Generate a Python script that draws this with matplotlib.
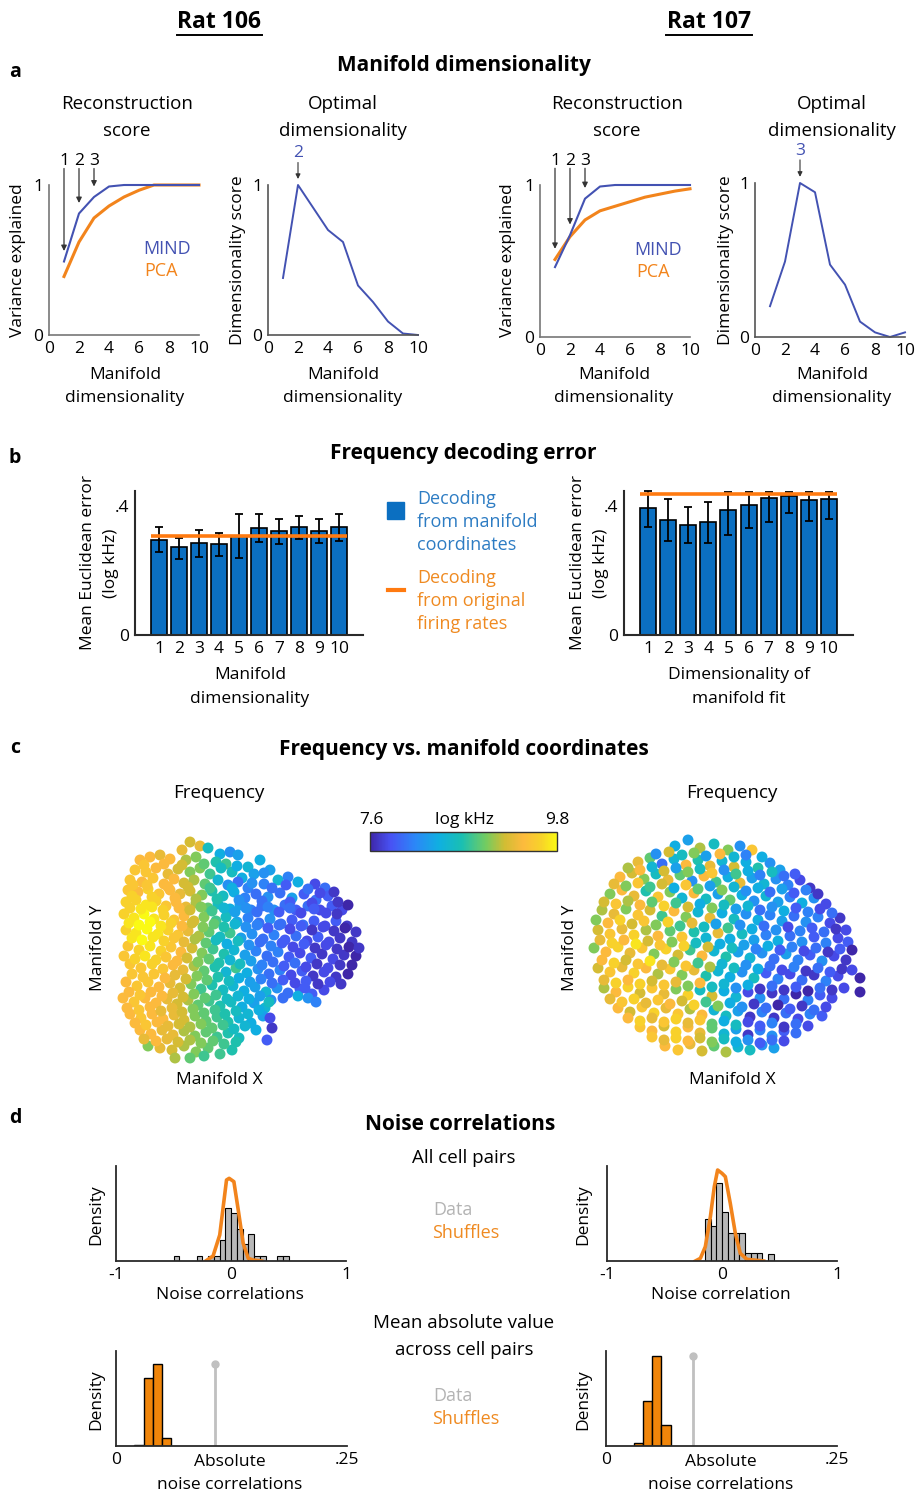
import numpy as np
import matplotlib
matplotlib.use('Agg')
import matplotlib.pyplot as plt
from matplotlib.colors import LinearSegmentedColormap
from matplotlib.lines import Line2D
from matplotlib.patches import Rectangle

plt.rcParams['font.family'] = ['Open Sans', 'DejaVu Sans']

W, H = 917, 1495

# ---------------- data ----------------
dims = np.arange(1, 11)
mind_106 = [0.49, 0.81, 0.92, 0.99, 1.0, 1.0, 1.0, 1.0, 1.0, 1.0]
pca_106 = [0.39, 0.62, 0.78, 0.86, 0.92, 0.965, 1.0, 1.0, 1.0, 1.0]
score_106 = [0.38, 1.0, 0.85, 0.70, 0.62, 0.33, 0.22, 0.09, 0.01, 0.0]
mind_107 = [0.46, 0.67, 0.91, 0.99, 1.0, 1.0, 1.0, 1.0, 1.0, 1.0]
pca_107 = [0.51, 0.66, 0.77, 0.83, 0.86, 0.89, 0.92, 0.94, 0.96, 0.975]
score_107 = [0.2, 0.49, 1.0, 0.94, 0.47, 0.34, 0.1, 0.03, 0.0, 0.03]
best_106, best_107 = 2, 3

err_106 = [0.295, 0.272, 0.286, 0.282, 0.307, 0.331, 0.322, 0.334, 0.323, 0.333]
lo_106 = [0.257, 0.235, 0.243, 0.245, 0.238, 0.287, 0.282, 0.297, 0.284, 0.291]
hi_106 = [0.334, 0.300, 0.326, 0.317, 0.374, 0.374, 0.360, 0.369, 0.360, 0.374]
orig_106 = 0.308
err_107 = [0.393, 0.357, 0.341, 0.349, 0.387, 0.402, 0.425, 0.431, 0.419, 0.422]
lo_107 = [0.336, 0.292, 0.284, 0.284, 0.309, 0.331, 0.349, 0.377, 0.352, 0.360]
hi_107 = [0.445, 0.421, 0.396, 0.412, 0.443, 0.443, 0.443, 0.443, 0.443, 0.443]
orig_107 = 0.436

# manifold coordinates (x, y, log kHz)
pts_106 = [
    (70, 218, 9.2), (80, 214, 9.3),
    (62, 210, 9.3), (88, 212, 8.6), (100, 206, 8.4), (110, 208, 8.2), (118, 205, 8.3),
    (20, 200, 9.4), (30, 203, 9.4), (40, 205, 9.3), (50, 201, 9.4), (66, 200, 9.1), (76, 203, 9.0),
    (96, 198, 8.7), (106, 196, 8.8), (128, 193, 8.5), (140, 200, 8.4), (150, 190, 8.3),
    (15, 190, 9.5), (26, 188, 9.5), (36, 192, 9.4), (48, 186, 9.3), (58, 191, 9.2), (70, 188, 9.0),
    (80, 192, 9.0), (90, 186, 8.8), (112, 188, 8.6), (122, 182, 8.4), (134, 186, 8.3), (158, 180, 8.5),
    (168, 183, 8.1),
    (10, 180, 9.5), (22, 178, 9.4), (33, 182, 9.5), (44, 176, 9.4), (54, 181, 9.4), (64, 177, 9.2),
    (74, 180, 9.1), (85, 176, 8.9), (98, 180, 8.5), (108, 175, 8.2), (118, 178, 8.0), (128, 172, 8.1),
    (144, 176, 8.1), (178, 178, 8.4), (195, 176, 7.8), (205, 172, 8.0),
    (8, 170, 9.5), (18, 168, 9.4), (28, 171, 9.6), (39, 166, 9.5), (50, 170, 9.4), (60, 166, 9.3),
    (70, 169, 9.2), (82, 165, 9.0), (92, 169, 8.7), (103, 164, 8.6), (114, 168, 8.4), (125, 162, 8.1),
    (136, 166, 8.0), (148, 163, 8.2), (160, 167, 8.0), (172, 162, 8.3), (184, 166, 7.9), (196, 160, 8.0),
    (208, 164, 7.9),
    (6, 158, 9.6), (16, 160, 9.6), (26, 155, 9.7), (36, 159, 9.6), (46, 154, 9.5), (56, 158, 9.4),
    (66, 153, 9.3), (76, 157, 9.1), (88, 152, 8.9), (98, 156, 8.6), (110, 151, 8.4), (120, 155, 8.3),
    (131, 150, 8.1), (142, 154, 8.0), (154, 150, 8.2), (165, 155, 8.0), (176, 150, 7.9), (188, 154, 8.0),
    (200, 150, 7.8), (212, 154, 7.9), (222, 150, 7.8),
    (4, 146, 9.6), (14, 142, 9.7), (24, 146, 9.8), (34, 141, 9.7), (44, 145, 9.6), (54, 140, 9.5),
    (64, 144, 9.4), (74, 139, 9.2), (84, 143, 9.0), (96, 139, 8.8), (106, 143, 8.6), (117, 138, 8.3),
    (128, 142, 8.1), (139, 137, 8.0), (150, 141, 8.2), (161, 136, 8.0), (172, 140, 7.9), (183, 135, 8.0),
    (194, 139, 7.9), (205, 134, 7.8), (216, 139, 7.9), (227, 134, 7.7),
    (6, 130, 9.6), (16, 127, 9.7), (27, 131, 9.8), (38, 126, 9.7), (48, 130, 9.6), (58, 125, 9.5),
    (68, 129, 9.3), (79, 124, 9.1), (89, 128, 8.9), (100, 123, 8.6), (110, 127, 8.8), (121, 122, 8.3),
    (132, 126, 8.2), (143, 121, 8.0), (154, 125, 8.1), (165, 120, 7.9), (176, 124, 8.0), (187, 119, 7.8),
    (198, 123, 7.9), (209, 118, 7.8), (220, 122, 7.7), (232, 118, 7.7),
    (8, 114, 9.5), (19, 110, 9.6), (30, 114, 9.7), (41, 109, 9.6), (51, 113, 9.5), (61, 108, 9.4),
    (72, 112, 9.2), (82, 107, 9.0), (93, 111, 8.8), (104, 106, 8.7), (114, 110, 8.5), (125, 105, 8.3),
    (136, 109, 8.1), (147, 104, 8.0), (158, 108, 8.1), (169, 103, 7.9), (180, 107, 7.8), (191, 102, 7.9),
    (202, 106, 7.7), (213, 101, 7.8), (224, 105, 7.7), (236, 104, 7.6),
    (10, 96, 9.5), (21, 92, 9.5), (32, 96, 9.6), (43, 91, 9.5), (53, 95, 9.4), (63, 90, 9.3),
    (74, 94, 9.1), (84, 89, 8.9), (95, 93, 8.7), (106, 88, 8.5), (116, 92, 8.8), (127, 87, 8.4),
    (138, 91, 8.2), (149, 86, 8.0), (160, 90, 8.1), (171, 85, 7.8), (182, 89, 7.9), (193, 84, 7.7),
    (204, 88, 7.8), (216, 83, 7.7), (228, 86, 7.6),
    (6, 78, 9.4), (17, 74, 9.5), (28, 78, 9.5), (39, 73, 9.4), (50, 77, 9.3), (60, 72, 9.2),
    (71, 76, 9.0), (81, 71, 8.8), (92, 75, 8.7), (103, 70, 8.6), (113, 74, 8.5), (124, 69, 8.4),
    (135, 73, 8.3), (146, 68, 8.5), (157, 72, 8.2), (168, 67, 8.0), (180, 71, 7.9), (192, 66, 7.9),
    (204, 70, 7.8),
    (3, 62, 9.4), (14, 58, 9.5), (25, 62, 9.4), (36, 57, 9.4), (47, 61, 9.3), (57, 56, 9.2),
    (68, 60, 9.1), (78, 55, 8.9), (89, 59, 8.8), (100, 54, 8.7), (111, 58, 8.6), (122, 53, 8.4),
    (134, 57, 8.3), (145, 52, 8.5), (178, 64, 8.4), (188, 62, 8.2),
    (10, 46, 9.4), (21, 42, 9.5), (32, 46, 9.4), (43, 41, 9.4), (54, 45, 9.3), (64, 40, 9.2),
    (75, 44, 9.0), (86, 39, 8.9), (97, 43, 8.8), (108, 38, 8.7), (119, 42, 8.5), (131, 37, 8.4),
    (143, 44, 8.3), (152, 32, 7.7),
    (20, 30, 9.4), (31, 26, 9.4), (42, 30, 9.3), (53, 25, 9.3), (64, 29, 9.1), (75, 24, 9.0),
    (86, 28, 8.9), (97, 23, 8.8), (108, 27, 8.7), (119, 22, 8.6), (147, 20, 7.9),
    (28, 14, 9.0), (40, 12, 9.3), (52, 10, 9.2), (64, 14, 9.1), (76, 8, 9.0), (88, 12, 8.9),
    (100, 6, 8.8), (112, 10, 8.7),
    (55, 2, 9.1), (70, 2, 8.9), (84, 4, 8.8),
    # second pass, between the rows above
    (24, 195, 9.5), (44, 196, 9.4), (62, 195, 9.2), (84, 196, 8.9), (101, 192, 8.6), (117, 194, 8.4),
    (144, 187, 8.2),
    (13, 175, 9.5), (27, 175, 9.5), (48, 173, 9.4), (68, 173, 9.2), (90, 172, 8.8), (112, 172, 8.4),
    (132, 177, 8.2), (152, 172, 8.0), (166, 175, 7.9), (188, 171, 8.0), (200, 167, 7.8), (214, 168, 7.7),
    (12, 164, 9.6), (32, 163, 9.6), (55, 162, 9.4), (76, 161, 9.1), (97, 161, 8.7), (119, 160, 8.2),
    (142, 159, 8.0), (170, 158, 7.9), (192, 157, 7.8), (218, 158, 7.7), (228, 155, 7.6),
    (10, 152, 9.6), (21, 151, 9.7), (32, 153, 9.7), (43, 150, 9.6), (59, 152, 9.4), (70, 150, 9.2),
    (81, 153, 9.0), (92, 149, 8.8), (104, 152, 8.5), (115, 148, 8.3), (126, 152, 8.2), (137, 148, 8.0),
    (148, 153, 8.1), (159, 148, 7.9), (170, 152, 8.0), (181, 147, 7.8), (194, 151, 7.9), (206, 147, 7.8),
    (217, 146, 7.7),
    (9, 137, 9.7), (19, 135, 9.8), (30, 138, 9.8), (41, 134, 9.7), (51, 137, 9.6), (62, 134, 9.4),
    (72, 137, 9.2), (83, 133, 9.0), (94, 136, 8.9), (104, 133, 8.7), (115, 136, 8.5), (126, 133, 8.2),
    (137, 135, 8.1), (148, 132, 7.9), (159, 135, 8.0), (170, 131, 7.8), (181, 134, 7.9), (192, 130, 7.7),
    (203, 133, 7.8), (214, 129, 7.7), (225, 132, 7.6), (236, 128, 7.7),
    (12, 122, 9.7), (22, 120, 9.8), (33, 123, 9.7), (44, 119, 9.6), (54, 122, 9.5), (64, 118, 9.3),
    (75, 121, 9.1), (86, 117, 8.9), (96, 120, 8.6), (107, 116, 8.4), (118, 119, 8.6), (129, 115, 8.2),
    (140, 118, 8.0), (151, 114, 8.1), (162, 117, 7.9), (173, 113, 7.8), (184, 116, 7.9), (195, 112, 7.7),
    (206, 115, 7.8), (217, 111, 7.7), (229, 113, 7.6), (239, 112, 7.7),
    (4, 104, 9.5), (15, 101, 9.6), (25, 104, 9.7), (36, 100, 9.6), (46, 103, 9.5), (57, 99, 9.4),
    (67, 102, 9.2), (78, 98, 9.0), (89, 101, 8.9), (99, 97, 8.7), (110, 100, 8.5), (120, 96, 8.6),
    (131, 99, 8.3), (142, 95, 8.1), (153, 98, 8.0), (164, 94, 7.9), (175, 97, 8.0), (186, 93, 7.8),
    (197, 96, 7.7), (208, 92, 7.8), (220, 95, 7.7), (232, 95, 7.6),
    (12, 86, 9.5), (23, 83, 9.5), (34, 86, 9.5), (45, 82, 9.4), (55, 85, 9.3), (66, 81, 9.2),
    (77, 84, 9.0), (87, 80, 8.9), (98, 83, 8.7), (109, 79, 8.6), (119, 82, 8.4), (130, 78, 8.3),
    (141, 81, 8.1), (152, 77, 8.0), (163, 80, 7.9), (175, 77, 7.8), (186, 79, 7.9), (198, 76, 7.7),
    (210, 78, 7.8), (221, 76, 7.7),
    (9, 68, 9.4), (20, 65, 9.5), (31, 68, 9.4), (42, 64, 9.4), (53, 67, 9.3), (63, 63, 9.2),
    (74, 66, 9.0), (85, 62, 8.9), (96, 65, 8.8), (107, 61, 8.6), (118, 64, 8.5), (129, 61, 8.4),
    (140, 64, 8.3), (151, 60, 8.2), (163, 62, 8.0), (185, 72, 7.9), (196, 58, 8.1),
    (7, 52, 9.4), (19, 50, 9.5), (30, 53, 9.4), (41, 49, 9.3), (52, 52, 9.3), (62, 48, 9.2),
    (73, 51, 9.0), (84, 47, 8.9), (95, 50, 8.8), (105, 46, 8.7), (116, 49, 8.6), (128, 46, 8.5),
    (139, 50, 8.4), (149, 58, 8.6),
    (15, 37, 9.4), (26, 35, 9.5), (37, 38, 9.4), (48, 34, 9.3), (59, 36, 9.2), (70, 33, 9.1),
    (81, 36, 9.0), (92, 32, 8.9), (103, 35, 8.8), (114, 31, 8.6), (125, 34, 8.5), (136, 30, 8.4),
    (150, 42, 7.8),
    (24, 21, 9.3), (36, 19, 9.4), (47, 21, 9.3), (58, 18, 9.2), (70, 20, 9.1), (81, 17, 9.0),
    (93, 19, 8.9), (104, 16, 8.8), (116, 18, 8.7),
]

pts_107 = [
    (85, 214, 8.4), (98, 220, 8.3), (110, 212, 9.1), (124, 216, 8.6), (138, 210, 9.0), (150, 214, 8.2),
    (162, 210, 9.5),
    (48, 198, 9.3), (60, 202, 8.9), (72, 196, 8.0), (84, 201, 8.5), (96, 195, 9.4), (108, 200, 8.7),
    (120, 194, 9.3), (132, 199, 8.5), (144, 193, 9.2), (156, 198, 8.4), (168, 192, 8.7), (180, 197, 8.2),
    (190, 190, 8.3),
    (30, 183, 9.4), (42, 187, 9.2), (54, 181, 9.0), (66, 186, 8.6), (78, 180, 9.3), (90, 185, 8.9),
    (102, 179, 8.2), (114, 184, 9.4), (126, 178, 8.8), (138, 183, 8.4), (150, 177, 9.3), (162, 182, 8.3),
    (174, 176, 8.5), (186, 181, 8.2), (198, 175, 8.1), (210, 180, 7.8), (220, 172, 7.7),
    (20, 166, 9.0), (32, 170, 9.4), (44, 164, 9.3), (56, 169, 8.7), (68, 163, 9.5), (80, 168, 9.0),
    (92, 162, 8.5), (104, 167, 9.4), (116, 161, 8.6), (128, 166, 8.3), (140, 160, 8.9), (152, 165, 8.4),
    (164, 159, 8.2), (176, 164, 8.5), (188, 158, 8.3), (200, 163, 8.1), (212, 157, 8.4), (224, 162, 8.2),
    (236, 156, 7.8),
    (12, 150, 9.1), (24, 146, 9.3), (36, 151, 9.0), (48, 145, 9.5), (60, 150, 9.2), (72, 144, 8.8),
    (84, 149, 9.4), (96, 143, 9.0), (108, 148, 8.5), (120, 142, 9.3), (132, 147, 8.4), (144, 141, 8.6),
    (156, 146, 8.2), (168, 140, 8.4), (180, 145, 8.1), (192, 139, 8.3), (204, 144, 8.0), (216, 138, 8.2),
    (228, 143, 8.1), (240, 137, 7.8), (250, 142, 7.7),
    (8, 130, 9.2), (20, 126, 9.5), (32, 131, 9.3), (44, 125, 9.6), (56, 130, 9.1), (68, 124, 9.4),
    (80, 129, 8.9), (92, 123, 9.5), (104, 128, 8.7), (116, 122, 8.5), (128, 127, 9.3), (140, 121, 8.4),
    (152, 126, 8.6), (164, 120, 8.3), (176, 125, 8.1), (188, 119, 8.4), (200, 124, 8.0), (212, 118, 8.2),
    (224, 123, 7.9), (236, 117, 8.1), (248, 122, 7.8), (258, 118, 7.9),
    (4, 112, 9.0), (16, 108, 9.4), (28, 113, 9.6), (40, 107, 9.3), (52, 112, 9.5), (64, 106, 9.0),
    (76, 111, 9.6), (88, 105, 9.2), (100, 110, 8.8), (112, 104, 9.4), (124, 109, 8.5), (136, 103, 8.7),
    (148, 108, 8.3), (160, 102, 8.5), (172, 107, 8.2), (184, 101, 8.0), (196, 106, 8.3), (208, 100, 8.1),
    (220, 105, 7.9), (232, 99, 8.2), (244, 104, 7.8), (256, 100, 7.7),
    (8, 92, 9.2), (20, 88, 9.5), (32, 93, 9.3), (44, 87, 9.6), (56, 92, 9.4), (68, 86, 9.1),
    (80, 91, 9.5), (92, 85, 9.0), (104, 90, 9.3), (116, 84, 8.7), (128, 89, 8.5), (140, 83, 8.4),
    (152, 88, 8.2), (164, 82, 8.6), (176, 87, 7.9), (188, 81, 8.1), (200, 86, 7.8), (212, 80, 8.0),
    (224, 85, 7.7), (236, 79, 8.1), (248, 84, 7.8), (270, 82, 7.6),
    (14, 72, 9.1), (26, 68, 9.4), (38, 73, 9.6), (50, 67, 9.2), (62, 72, 9.5), (74, 66, 9.3),
    (86, 71, 9.0), (98, 65, 9.6), (110, 70, 8.6), (122, 64, 9.2), (134, 69, 8.4), (146, 63, 8.5),
    (158, 68, 7.8), (170, 62, 8.2), (182, 67, 7.7), (194, 61, 8.0), (206, 66, 7.6), (218, 60, 8.1),
    (230, 65, 7.9), (242, 62, 7.8), (270, 68, 7.6),
    (28, 52, 9.4), (40, 48, 9.2), (52, 53, 9.5), (64, 47, 9.6), (76, 52, 9.3), (88, 46, 9.5),
    (100, 51, 9.1), (112, 45, 9.4), (124, 50, 8.5), (136, 44, 8.6), (148, 49, 8.3), (160, 43, 7.7),
    (172, 48, 8.1), (184, 42, 7.7), (196, 47, 8.0), (208, 41, 7.8), (220, 46, 8.1), (232, 44, 7.9),
    (50, 33, 9.5), (62, 29, 9.4), (74, 34, 9.2), (86, 28, 9.6), (98, 33, 9.4), (110, 27, 9.3),
    (122, 32, 8.9), (134, 26, 8.5), (146, 31, 8.3), (158, 25, 7.7), (170, 30, 8.1), (182, 24, 8.2),
    (194, 29, 7.9), (206, 27, 8.0),
    (75, 14, 9.4), (88, 10, 9.5), (100, 16, 9.3), (112, 9, 9.2), (124, 14, 8.9), (136, 8, 9.1),
    (148, 13, 8.5), (160, 10, 8.6), (172, 15, 8.2), (184, 12, 8.3),
    # second pass, between the rows above
    (66, 206, 8.2), (79, 208, 9.2), (92, 205, 8.6), (104, 207, 9.0), (116, 204, 8.3), (130, 206, 9.4),
    (144, 203, 8.5), (156, 205, 8.1), (172, 203, 8.4),
    (38, 192, 9.1), (50, 190, 9.4), (62, 193, 8.5), (74, 189, 9.2), (86, 192, 8.3), (98, 188, 9.0),
    (110, 191, 8.6), (122, 187, 9.5), (134, 190, 8.2), (146, 186, 8.8), (158, 189, 8.4), (170, 185, 8.1),
    (182, 188, 8.6), (194, 184, 8.0), (205, 186, 7.9),
    (24, 176, 9.3), (36, 174, 9.0), (48, 177, 9.5), (60, 173, 8.8), (72, 176, 9.2), (84, 172, 8.4),
    (96, 175, 9.5), (108, 171, 8.9), (120, 174, 8.3), (132, 170, 9.0), (144, 173, 8.5), (156, 169, 8.2),
    (168, 172, 8.4), (180, 168, 8.0), (192, 171, 8.3), (204, 167, 7.9), (216, 170, 8.1), (228, 166, 7.7),
    (14, 158, 9.2), (26, 156, 9.5), (38, 159, 9.1), (50, 155, 9.4), (62, 158, 8.9), (74, 154, 9.6),
    (86, 157, 8.8), (98, 153, 9.2), (110, 156, 8.4), (122, 152, 9.0), (134, 155, 8.6), (146, 151, 8.3),
    (158, 154, 8.5), (170, 150, 8.0), (182, 153, 8.2), (194, 149, 8.4), (206, 152, 7.9), (218, 148, 8.1),
    (230, 151, 7.8), (242, 147, 8.0),
    (6, 140, 9.0), (18, 137, 9.4), (30, 140, 9.6), (42, 136, 9.2), (54, 139, 9.5), (66, 135, 9.0),
    (78, 138, 9.6), (90, 134, 8.8), (102, 137, 9.3), (114, 133, 8.6), (126, 136, 8.3), (138, 132, 8.8),
    (150, 135, 8.2), (162, 131, 8.4), (174, 134, 8.0), (186, 130, 8.2), (198, 133, 7.8), (210, 129, 8.1),
    (222, 132, 7.9), (234, 128, 8.0), (246, 131, 7.7), (256, 130, 7.8),
    (10, 120, 9.3), (22, 117, 9.6), (34, 120, 9.4), (46, 116, 9.7), (58, 119, 9.2), (70, 115, 9.5),
    (82, 118, 9.0), (94, 114, 9.6), (106, 117, 8.6), (118, 113, 9.2), (130, 116, 8.4), (142, 112, 8.6),
    (154, 115, 8.3), (166, 111, 8.1), (178, 114, 8.4), (190, 110, 7.9), (202, 113, 8.1), (214, 109, 7.8),
    (226, 112, 8.0), (238, 108, 7.7), (250, 111, 7.9), (262, 110, 7.6),
    (12, 100, 9.4), (24, 97, 9.6), (36, 100, 9.2), (48, 96, 9.5), (60, 99, 9.7), (72, 95, 9.3),
    (84, 98, 9.0), (96, 94, 9.5), (108, 97, 8.8), (120, 93, 9.1), (132, 96, 8.5), (144, 92, 8.6),
    (156, 95, 8.2), (168, 91, 8.4), (180, 94, 8.0), (192, 90, 7.8), (204, 93, 8.1), (216, 89, 7.7),
    (228, 92, 8.0), (240, 88, 7.9), (252, 91, 7.7), (262, 90, 7.8),
    (14, 80, 9.3), (26, 77, 9.6), (38, 80, 9.4), (50, 76, 9.6), (62, 79, 9.2), (74, 75, 9.5),
    (86, 78, 9.3), (98, 74, 9.0), (110, 77, 9.4), (122, 73, 8.6), (134, 76, 8.5), (146, 72, 8.2),
    (158, 75, 8.4), (170, 71, 7.7), (182, 74, 8.0), (194, 70, 7.7), (206, 73, 7.9), (218, 69, 7.6),
    (230, 72, 8.0), (242, 70, 7.7), (254, 72, 7.8),
    (20, 61, 9.3), (32, 58, 9.5), (44, 61, 9.6), (56, 57, 9.3), (68, 60, 9.5), (80, 56, 9.4),
    (92, 59, 9.2), (104, 55, 9.6), (116, 58, 8.8), (128, 54, 9.0), (140, 57, 8.4), (152, 53, 8.2),
    (164, 56, 7.7), (176, 52, 8.0), (188, 55, 7.6), (200, 51, 7.9), (212, 54, 7.7), (224, 50, 8.0),
    (236, 53, 7.8),
    (38, 42, 9.4), (50, 39, 9.6), (62, 42, 9.3), (74, 38, 9.5), (86, 41, 9.6), (98, 37, 9.3),
    (110, 40, 9.5), (122, 36, 8.9), (134, 39, 8.4), (146, 35, 8.6), (158, 38, 7.8), (170, 34, 7.9),
    (182, 37, 8.1), (194, 33, 7.7), (206, 36, 8.0), (218, 34, 7.8),
    (62, 23, 9.5), (74, 20, 9.3), (86, 22, 9.6), (98, 19, 9.4), (110, 22, 9.2), (122, 18, 9.0),
    (134, 21, 8.6), (146, 18, 8.4), (158, 20, 8.2), (170, 17, 7.9), (182, 20, 8.0), (194, 19, 7.8),
]
freq_min, freq_max = 7.6, 9.8

# noise correlations (bin left edges, heights in relative density)
nc_bin = 0.05
nc_edges_106 = [-0.5, -0.3, -0.2, -0.15, -0.1, -0.05, 0.0, 0.05, 0.1, 0.15, 0.2, 0.25, 0.4, 0.45]
nc_counts_106 = [15, 15, 15, 15, 63, 158, 143, 95, 50, 80, 15, 15, 15, 15]
shuf_x_106 = [-0.22, -0.156, -0.098, -0.039, -0.016, 0.025, 0.063, 0.106, 0.15, 0.194, 0.266]
shuf_y_106 = [0, 15, 78, 243, 248, 238, 153, 53, 8, 3, 0]
nc_edges_107 = [-0.15, -0.1, -0.05, 0.0, 0.05, 0.1, 0.15, 0.2, 0.25, 0.3, 0.4]
nc_counts_107 = [126, 106, 233, 148, 85, 85, 85, 23, 23, 23, 20]
shuf_x_107 = [-0.232, -0.188, -0.145, -0.101, -0.067, -0.038, 0.0, 0.029, 0.072, 0.116, 0.159, 0.217, 0.362]
shuf_y_107 = [0, 8, 43, 133, 223, 273, 263, 253, 173, 83, 23, 5, 0]

abs_bin = 0.01
abs_edges_106 = [0.02, 0.03, 0.04, 0.05]
abs_counts_106 = [3, 206, 248, 23]
abs_data_106 = 0.1075
abs_edges_107 = [0.03, 0.04, 0.05, 0.06]
abs_counts_107 = [8, 135, 271, 63]
abs_data_107 = 0.094

# ---------------- style ----------------
BLUE_LINE = '#4352b2'
ORANGE = '#f2841c'
BAR_BLUE = '#0b6fc1'
TXT_BLUE = '#2d7cc3'
TXT_ORANGE = '#ef8a21'
GRAY = '#b8b8b8'
DARK = '#2a2a2a'

parula = LinearSegmentedColormap.from_list('parula', [
    (0.00, (0.2422, 0.1504, 0.6603)),
    (0.11, (0.2810, 0.3228, 0.9579)),
    (0.24, (0.1700, 0.5300, 0.9700)),
    (0.37, (0.0600, 0.6900, 0.8800)),
    (0.49, (0.1000, 0.7500, 0.7000)),
    (0.62, (0.4500, 0.8000, 0.3800)),
    (0.72, (0.8200, 0.7400, 0.2000)),
    (0.82, (0.9900, 0.7300, 0.2400)),
    (0.92, (0.9700, 0.8300, 0.1600)),
    (1.00, (0.9800, 0.9800, 0.0800)),
])

fig = plt.figure(figsize=(W / 100, H / 100), dpi=100)


def add_ax(l, t, r, b):
    return fig.add_axes([l / W, 1 - b / H, (r - l) / W, (b - t) / H])


def txt(x, y, s, size=13, **kw):
    kw.setdefault('ha', 'center')
    kw.setdefault('va', 'center')
    return fig.text(x / W, 1 - y / H, s, fontsize=size, **kw)


def clean(ax, color=DARK, lw=1.3):
    for side in ['top', 'right']:
        ax.spines[side].set_visible(False)
    for side in ['left', 'bottom']:
        ax.spines[side].set_color(color)
        ax.spines[side].set_linewidth(lw)
    ax.tick_params(length=0, labelsize=12.5, pad=4, colors='black')
    ax.patch.set_alpha(0)


# ---------------- headers ----------------
for x, name in [(219, 'Rat 106'), (709, 'Rat 107')]:
    txt(x, 22, name, size=16.5, weight='bold')
fig.add_artist(Line2D([177 / W, 262 / W], [1 - 35 / H, 1 - 35 / H], color='black', lw=1.4))
fig.add_artist(Line2D([666 / W, 752 / W], [1 - 35 / H, 1 - 35 / H], color='black', lw=1.4))

# ---------------- panel a ----------------
txt(15, 72, 'a', size=14, weight='bold')
txt(464, 66, 'Manifold dimensionality', size=15, weight='bold')

rec_boxes = [(49, 185, 199, 335), (540, 185, 690, 337)]
opt_boxes = [(268, 185, 418, 335), (755, 183, 905, 337)]
for i, (mind, pca, score, best) in enumerate([(mind_106, pca_106, score_106, best_106),
                                               (mind_107, pca_107, score_107, best_107)]):
    ax = add_ax(*rec_boxes[i])
    clean(ax, color='#777777', lw=1.2)
    ax.plot(dims, pca, color=ORANGE, lw=2.2, clip_on=False)
    ax.plot(dims, mind, color=BLUE_LINE, lw=1.5, clip_on=False)
    ax.set_xlim(0, 10)
    ax.set_ylim(0, 1)
    ax.set_xticks([0, 2, 4, 6, 8, 10])
    ax.set_yticks([0, 1])
    ax.set_yticklabels(['0', '1'])
    for k in [1, 2, 3]:
        tip = max(mind[k - 1], pca[k - 1]) + 0.07
        ax.annotate('', xy=(k, tip), xytext=(k, 1.11), annotation_clip=False,
                    arrowprops=dict(arrowstyle='-|>', color='#333333', lw=0.9,
                                    mutation_scale=8, shrinkA=0, shrinkB=0))
        ax.text(k, 1.16, str(k), ha='center', va='center', fontsize=12.5, clip_on=False)
    ax.text(7.9, 0.57, 'MIND', color=BLUE_LINE, fontsize=13, ha='center', va='center')
    ax.text(7.5, 0.43, 'PCA', color=ORANGE, fontsize=13, ha='center', va='center')

    ax2 = add_ax(*opt_boxes[i])
    clean(ax2, color='#555555', lw=1.2)
    ax2.plot(dims, score, color=BLUE_LINE, lw=1.4, clip_on=False)
    ax2.set_xlim(0, 10)
    ax2.set_ylim(0, 1)
    ax2.set_xticks([0, 2, 4, 6, 8, 10])
    ax2.set_yticks([0, 1])
    ax2.set_yticklabels(['0', '1'])
    ax2.annotate('', xy=(best, 1.04), xytext=(best, 1.15), annotation_clip=False,
                 arrowprops=dict(arrowstyle='-|>', color='#333333', lw=0.8,
                                 mutation_scale=7, shrinkA=0, shrinkB=0))
    ax2.text(best, 1.21, str(best), color=BLUE_LINE, ha='center', va='center',
             fontsize=12.5, clip_on=False)

for cx in [127, 617]:
    txt(cx, 104, 'Reconstruction', size=13.5)
    txt(cx, 131, 'score', size=13.5)
for cx in [343, 832]:
    txt(cx, 104, 'Optimal', size=13.5)
    txt(cx, 131, 'dimensionality', size=13.5)
for x in [18, 508]:
    txt(x, 260, 'Variance explained', size=12.5, rotation=90)
for x in [238, 726]:
    txt(x, 260, 'Dimensionality score', size=12.5, rotation=90)
for cx in [125, 343, 614, 832]:
    txt(cx, 375, 'Manifold', size=12.5)
    txt(cx, 398, 'dimensionality', size=12.5)

# ---------------- panel b ----------------
txt(15, 458, 'b', size=14, weight='bold')
txt(463, 454, 'Frequency decoding error', size=15, weight='bold')

bar_boxes = [(135, 491, 363, 635), (624, 491, 853, 635)]
for i, (err, lo, hi, orig) in enumerate([(err_106, lo_106, hi_106, orig_106),
                                          (err_107, lo_107, hi_107, orig_107)]):
    ax = add_ax(*bar_boxes[i])
    clean(ax, color=DARK, lw=1.5)
    ax.bar(dims, err, width=0.8, color=BAR_BLUE, edgecolor='black', linewidth=1.2, zorder=2)
    yerr = [np.array(err) - np.array(lo), np.array(hi) - np.array(err)]
    eb = ax.errorbar(dims, err, yerr=yerr, fmt='none', ecolor='black', elinewidth=1.3,
                     capsize=3, capthick=1.3, zorder=3)
    for art in eb.lines[1] + eb.lines[2]:
        art.set_clip_on(False)
    ax.plot([dims[0] - 0.4, dims[-1] + 0.4], [orig, orig], color='#ff7a10', lw=2.6,
            zorder=4, solid_capstyle='butt', clip_on=False)
    ax.set_xlim(-0.2, 11.2)
    ax.set_ylim(0, 0.446)
    ax.set_xticks(dims)
    ax.set_yticks([0, 0.4])
    ax.set_yticklabels(['0', '.4'])

for x in [88, 578]:
    txt(x, 563, 'Mean Euclidean error', size=12.5, rotation=90)
    txt(x + 23, 563, '(log kHz)', size=12.5, rotation=90)
txt(250, 675, 'Manifold', size=12.5)
txt(250, 699, 'dimensionality', size=12.5)
txt(739, 675, 'Dimensionality of', size=12.5)
txt(739, 699, 'manifold fit', size=12.5)

fig.add_artist(Rectangle((387 / W, 1 - 519 / H), 17 / W, 17 / H, color=BAR_BLUE,
                         transform=fig.transFigure))
fig.add_artist(Line2D([388 / W, 404 / W], [1 - 590 / H, 1 - 590 / H], color='#ff7a10', lw=3))
for y, s in [(499, 'Decoding'), (522, 'from manifold'), (545, 'coordinates')]:
    txt(417, y, s, color=TXT_BLUE, ha='left')
for y, s in [(578, 'Decoding'), (601, 'from original'), (624, 'firing rates')]:
    txt(417, y, s, color=TXT_ORANGE, ha='left')

# ---------------- panel c ----------------
txt(15, 748, 'c', size=14, weight='bold')
txt(464, 749, 'Frequency vs. manifold coordinates', size=15, weight='bold')
txt(219, 793, 'Frequency', size=13.5)
txt(732, 793, 'Frequency', size=13.5)

sc_boxes = [(120, 838, 360, 1060), (590, 838, 866, 1060)]
sc = None
for i, pts in enumerate([pts_106, pts_107]):
    ax = add_ax(*sc_boxes[i])
    p = np.array(pts)
    sc = ax.scatter(p[:, 0], p[:, 1], c=p[:, 2], cmap=parula, vmin=freq_min, vmax=freq_max,
                    s=62, edgecolors='none', clip_on=False)
    l, t, r, b = sc_boxes[i]
    ax.set_xlim(0, r - l)
    ax.set_ylim(0, b - t)
    ax.axis('off')

cax = add_ax(370, 832, 557, 851)
cb = fig.colorbar(sc, cax=cax, orientation='horizontal')
cb.set_ticks([])
cb.outline.set_linewidth(1.0)
cb.outline.set_edgecolor('#333333')
txt(371, 820, '7.6', size=12.5)
txt(464, 820, 'log kHz', size=12.5)
txt(557, 820, '9.8', size=12.5)

for x in [98, 570]:
    txt(x, 948, 'Manifold Y', size=12.5, rotation=90)
txt(219, 1080, 'Manifold X', size=12.5)
txt(732, 1080, 'Manifold X', size=12.5)

# ---------------- panel d ----------------
txt(15, 1118, 'd', size=14, weight='bold')
txt(460, 1125, 'Noise correlations', size=15, weight='bold')
txt(464, 1158, 'All cell pairs', size=13.5)

nc_boxes = [(116, 1166, 346, 1261), (607, 1166, 837, 1261)]
for i, (edges, counts, sx, sy) in enumerate([(nc_edges_106, nc_counts_106, shuf_x_106, shuf_y_106),
                                             (nc_edges_107, nc_counts_107, shuf_x_107, shuf_y_107)]):
    ax = add_ax(*nc_boxes[i])
    clean(ax, color=DARK, lw=1.3)
    ax.bar(edges, counts, width=nc_bin, align='edge', color=GRAY, edgecolor='black', linewidth=0.8)
    ax.plot(sx, sy, color=ORANGE, lw=2.6)
    ax.set_xlim(-1, 1)
    ax.set_ylim(0, 285)
    ax.set_xticks([-1, 0, 1])
    ax.set_xticklabels(['-1', '0', '1'])
    ax.set_yticks([])

abs_boxes = [(116, 1351, 347, 1446), (606, 1351, 837, 1446)]
for i, (edges, counts, dval) in enumerate([(abs_edges_106, abs_counts_106, abs_data_106),
                                           (abs_edges_107, abs_counts_107, abs_data_107)]):
    ax = add_ax(*abs_boxes[i])
    clean(ax, color=DARK, lw=1.3)
    ax.bar(edges, counts, width=abs_bin, align='edge', color='#f0850a', edgecolor='black',
           linewidth=1.0)
    ax.plot([dval, dval], [0, max(counts)], color='#c0c0c0', lw=2)
    ax.plot([dval], [max(counts)], 'o', color='#c0c0c0', ms=5, clip_on=False)
    ax.set_xlim(0, 0.25)
    ax.set_ylim(0, 286)
    ax.set_xticks([0, 0.25])
    ax.set_xticklabels(['0', '.25'])
    ax.set_yticks([])

for y in [1215, 1400]:
    txt(96, y, 'Density', size=12.5, rotation=90)
    txt(583, y, 'Density', size=12.5, rotation=90)
for y in [1210, 1396]:
    txt(433, y, 'Data', color='#b3b3b3', ha='left')
    txt(432, y + 23, 'Shuffles', color=TXT_ORANGE, ha='left')
txt(230, 1295, 'Noise correlations', size=12.5)
txt(721, 1295, 'Noise correlation', size=12.5)
txt(464, 1323, 'Mean absolute value', size=13.5)
txt(464, 1350, 'across cell pairs', size=13.5)
for cx in [230, 721]:
    txt(cx, 1462, 'Absolute', size=12.5)
    txt(cx, 1485, 'noise correlations', size=12.5)

fig.savefig('out.png', dpi=100)
